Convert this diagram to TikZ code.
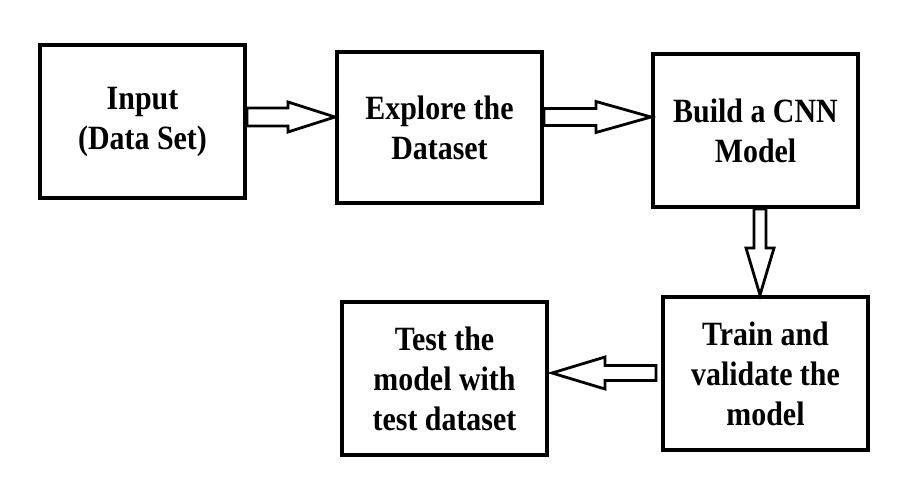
\documentclass[tikz,border=0pt]{standalone}
\usepackage{fontspec}
\setmainfont{Liberation Serif}[FakeStretch=0.88]
\usetikzlibrary{calc}
\tikzset{
  box/.style={draw, line width=4pt, minimum width=205pt, minimum height=153pt,
    inner sep=0pt, align=center, font=\fontsize{34}{40}\selectfont\bfseries},
  blk/.style={draw, line width=2.8pt, fill=white, line join=miter}
}
\begin{document}
\begin{tikzpicture}[x=1pt,y=-1pt]
\useasboundingbox (0,0) rectangle (917,500);
\node[box] (b1) at (142.5,121.5) {Input\\(Data Set)};
\node[box, minimum height=151pt] (b2) at (439.5,127.5) {Explore the\\Dataset};
\node[box] (b3) at (755.5,130.5) {Build a CNN\\Model};
\node[box] (b4) at (765.5,373.5) {Train and\\validate the\\model};
\node[box] (b5) at (444.5,378.5) {Test the\\model with\\test dataset};
% arrow 1
\coordinate (a1s) at (b1.east |- 0,117);
\coordinate (a1e) at (b2.west |- 0,117);
\draw[blk] ($(a1s)+(0,-9)$) -- ($(a1e)+(-47,-9)$) -- ($(a1e)+(-47,-15)$) -- (a1e)
  -- ($(a1e)+(-47,15)$) -- ($(a1e)+(-47,9)$) -- ($(a1s)+(0,9)$) -- cycle;
% arrow 2
\coordinate (a2s) at (b2.east |- 0,117);
\coordinate (a2e) at (b3.west |- 0,117);
\draw[blk] ($(a2s)+(0,-8.5)$) -- ($(a2e)+(-55,-8.5)$) -- ($(a2e)+(-55,-15.5)$) -- (a2e)
  -- ($(a2e)+(-55,15.5)$) -- ($(a2e)+(-55,8.5)$) -- ($(a2s)+(0,8.5)$) -- cycle;
% arrow 3
\coordinate (a3s) at ($(b3.south)+(4.5,0)$);
\coordinate (a3e) at (a3s |- b4.north);
\draw[blk] ($(a3s)+(-6,0)$) -- ($(a3e)+(-6,-47)$) -- ($(a3e)+(-14,-47)$) -- (a3e)
  -- ($(a3e)+(14,-47)$) -- ($(a3e)+(6,-47)$) -- ($(a3s)+(6,0)$) -- cycle;
% arrow 4
\coordinate (a4s) at ($(b4.west |- 0,373)+(-5,0)$);
\coordinate (a4e) at ($(b5.east |- 0,373)+(3,0)$);
\draw[blk] ($(a4s)+(0,-7.5)$) -- ($(a4e)+(53,-7.5)$) -- ($(a4e)+(53,-16)$) -- (a4e)
  -- ($(a4e)+(53,16)$) -- ($(a4e)+(53,7.5)$) -- ($(a4s)+(0,7.5)$) -- cycle;
\end{tikzpicture}
\end{document}
